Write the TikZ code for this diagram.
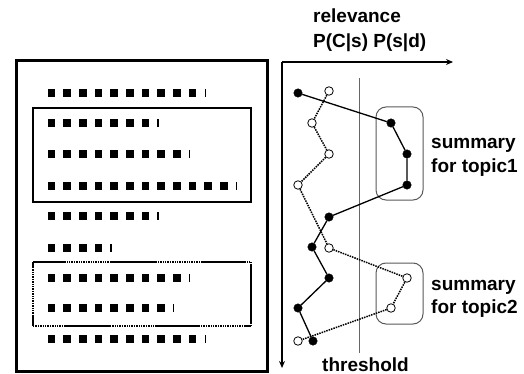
\documentclass[tikz,border=0pt]{standalone}
\usepackage{fontspec}
\setmainfont{Liberation Sans}
\usetikzlibrary{arrows.meta,calc}
\begin{document}
\begin{tikzpicture}[x=1pt,y=-1pt,
  lbl/.style={font=\fontsize{19}{21}\selectfont\bfseries, inner sep=0pt},
  fdot/.style={circle, fill=black, draw=black, inner sep=0pt, minimum size=8.5pt},
  odot/.style={circle, fill=white, draw=black, line width=0.8pt, inner sep=0pt, minimum size=8.5pt},
  sq/.style={fill=black},
  axisline/.style={line width=1.5pt, -{Stealth[length=7pt,width=6pt]}},
  solidpath/.style={line width=1.3pt},
  dotpath/.style={line width=1.5pt, black, dash pattern=on 1.5pt off 1pt},
  groupbox/.style={draw=black!65, line width=1pt, rounded corners=10pt},
  dotedge/.style={line width=1.8pt, dash pattern=on 1.3pt off 1.1pt},
  segedge/.style={line width=1.8pt, dash pattern=on 45pt off 45pt}
]
\useasboundingbox (0,0) rectangle (524,374);
% document frame
\draw[line width=3pt] (16,61) rectangle (267,371);
% rows of squares
\foreach \y/\n in {93/10,123/7,154/9,186/12,216/7,248/4,278/9,308/8,339/10}{
  \foreach \i in {1,...,\n}{
    \fill[sq] ({47.5+15.67*(\i-1)},{\y-3.7}) rectangle ++(7.7,7.4);
  }
  \fill ({47.5+15.67*\n+0.3},{\y-3.7}) rectangle ++(1.3,7.4);
}
% summary boxes in document
\draw[line width=2pt] (33,108) rectangle (251,202);
% mixed solid/dotted box
\coordinate (DA) at (33,262);
\coordinate (DB) at (251,262);
\coordinate (DC) at (251,326);
\coordinate (DD) at (33,326);
\draw[dotedge] (DA) -- (DB);
\draw[segedge, dash phase=12pt] (DA) -- (DB);
\draw[dotedge] (DD) -- (DC);
\draw[segedge, dash phase=58pt] (DD) -- (DC);
\draw[dotedge] (DA) -- (DD);
\draw[line width=1.8pt] (DA) -- ++(0,5);
\draw[line width=1.8pt] (DD) -- ++(0,-10);
\draw[line width=1.8pt] ($(DB)+(0,4)$) -- ($(DC)+(0,-5)$);
\draw[dotedge] (DB) -- ++(0,4);
\draw[dotedge] (DC) -- ++(0,-5);
% axes
\coordinate (O) at (282,62);
\coordinate (X) at (453,62);
\coordinate (Y) at (282,368);
\draw[axisline] (O) -- (X);
\draw[axisline] (O) -- (Y);
\node[lbl, anchor=base west] (rel) at (313,23) {relevance};
\node[lbl, anchor=base west] (prob) at (313,48) {P(C|s) P(s|d)};
% threshold
\coordinate (T1) at (359,78);
\coordinate (T2) at (359,353);
\draw[black!60, line width=1pt] (T1) -- (T2);
\node[lbl, anchor=base west] (thr) at (322,371) {threshold};
% group boxes
\draw[groupbox] (376,107) rectangle (423,200);
\draw[groupbox] (376,263) rectangle (423,324);
\node[lbl, anchor=base west] (s1) at (431,149) {summary};
\node[lbl, anchor=base west] (t1) at (431,172) {for topic1};
\node[lbl, anchor=base west] (s2) at (431,290) {summary};
\node[lbl, anchor=base west] (t2) at (431,313) {for topic2};
% open dots
\node[odot] (o1) at (329,91) {};
\node[odot] (o2) at (312,123) {};
\node[odot] (o3) at (329,154) {};
\node[odot] (o4) at (298,185) {};
\node[odot] (o5) at (329,248) {};
\node[odot] (o6) at (407,278) {};
\node[odot] (o7) at (391,308) {};
\node[odot] (o8) at (298,341) {};
\draw[dotpath] (o1) -- (o2) -- (o3) -- (o4) -- (o5) -- (o6) -- (o7) -- (o8);
% filled dots
\node[fdot] (f1d) at (298,93) {};
\node[fdot] (f2d) at (391,123) {};
\node[fdot] (f3d) at (407,154) {};
\node[fdot] (f4d) at (407,185) {};
\node[fdot] (f5d) at (329,217) {};
\node[fdot] (f6d) at (312,247) {};
\node[fdot] (f7d) at (329,278) {};
\node[fdot] (f8d) at (298,308) {};
\node[fdot] (f9d) at (313,341) {};
\draw[solidpath] (f1d) -- (f2d) -- (f3d) -- (f4d) -- (f5d) -- (f6d) -- (f7d) -- (f8d) -- (f9d);
\end{tikzpicture}
\end{document}
